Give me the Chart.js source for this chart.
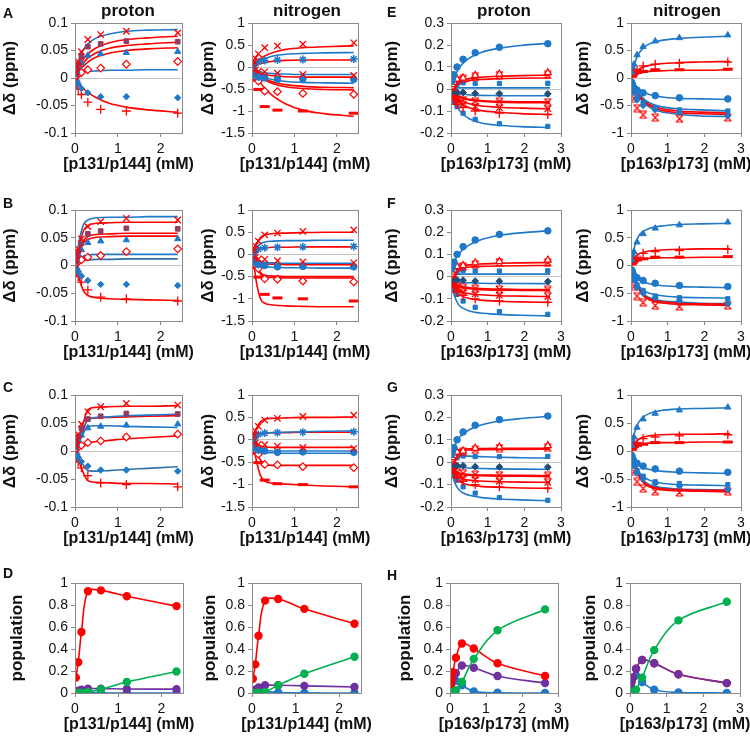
<!DOCTYPE html>
<html>
<head>
<meta charset="utf-8">
<script src="https://cdn.jsdelivr.net/npm/chart.js@4.4.1/dist/chart.umd.min.js"></script>
<style>
  body { margin: 0; background: #fff; }
  #fig { position: relative; width: 750px; height: 737px; overflow: hidden; font-family: "Liberation Sans", Arial, sans-serif; color: #111; }
  .lbl { position: absolute; font-weight: bold; white-space: nowrap; transform: translate(-50%, -50%); }
  .letter { position: absolute; font-weight: bold; font-size: 14px; line-height: 1; }
</style>
</head>
<body>
<div id="fig"></div>
<script>
// ---- concentrations (mM) ----
const concA = [0.02, 0.04, 0.075, 0.15, 0.3, 0.6, 1.2, 2.4];
const concE = [0.02, 0.04, 0.08, 0.165, 0.33, 0.66, 1.32, 2.64];
const fitXA = [0, 0.05, 0.1, 0.2, 0.3, 0.5, 0.8, 1.2, 1.7, 2.4];
const fitXE = [0, 0.05, 0.1, 0.2, 0.3, 0.5, 0.8, 1.3, 1.9, 2.7];
const popXA = [0.02, 0.075, 0.15, 0.3, 0.6, 1.2, 2.35];
const popXE = [0.02, 0.04, 0.08, 0.165, 0.33, 0.66, 1.32, 2.64];

// ---- measured shifts, p131/p144 (shared by A, B, C) ----
const hA_cross = [0.01, 0.02, 0.03, 0.048, 0.07, 0.079, 0.085, 0.082];
const hA_square = [0.008, 0.015, 0.025, 0.04, 0.057, 0.062, 0.067, 0.066];
const hA_tri = [0.006, 0.012, 0.02, 0.028, 0.041, 0.044, 0.046, 0.048];
const hA_openDia = [0.003, 0.005, 0.007, 0.01, 0.015, 0.018, 0.025, 0.03];
const hA_dia = [-0.003, -0.006, -0.011, -0.019, -0.027, -0.034, -0.034, -0.036];
const hA_plus = [-0.006, -0.012, -0.02, -0.03, -0.044, -0.057, -0.06, -0.064];

const nA_cross = [0.05, 0.12, 0.2, 0.3, 0.44, 0.48, 0.52, 0.55];
const nA_star = [0.02, 0.05, 0.09, 0.12, 0.15, 0.16, 0.17, 0.18];
const nA_cross2 = [-0.02, -0.04, -0.07, -0.1, -0.11, -0.14, -0.17, -0.19];
const nA_circle = [-0.08, -0.13, -0.18, -0.23, -0.25, -0.28, -0.27, -0.28];
const nA_openDia = [-0.08, -0.14, -0.22, -0.32, -0.55, -0.56, -0.6, -0.62];
const nA_dash = [-0.1, -0.2, -0.3, -0.51, -0.9, -0.98, -1.0, -1.05];

// ---- measured shifts, p163/p173 (shared by E, F, G) ----
const hE_circle = [0.035, 0.05, 0.065, 0.1, 0.135, 0.165, 0.19, 0.206];
const hE_openTri = [0.01, 0.02, 0.03, 0.045, 0.05, 0.062, 0.068, 0.074];
const hE_star = [0.008, 0.015, 0.025, 0.04, 0.046, 0.055, 0.063, 0.064];
const hE_square = [0.005, 0.01, 0.015, 0.02, 0.028, 0.025, 0.025, 0.026];
const hE_dia = [-0.004, -0.008, -0.01, -0.015, -0.016, -0.02, -0.021, -0.022];
const hE_star2 = [-0.01, -0.02, -0.03, -0.045, -0.05, -0.055, -0.058, -0.06];
const hE_cross = [-0.015, -0.025, -0.04, -0.06, -0.07, -0.078, -0.085, -0.09];
const hE_plus = [-0.02, -0.03, -0.05, -0.07, -0.085, -0.1, -0.11, -0.116];
const hE_square2 = [-0.02, -0.04, -0.06, -0.08, -0.11, -0.138, -0.158, -0.17];

const nE_tri = [0.1, 0.2, 0.25, 0.42, 0.57, 0.67, 0.73, 0.78];
const nE_plus = [0.05, 0.1, 0.13, 0.15, 0.22, 0.25, 0.27, 0.29];
const nE_dash = [0.03, 0.05, 0.08, 0.1, 0.12, 0.15, 0.15, 0.16];
const nE_circle = [-0.08, -0.12, -0.18, -0.22, -0.27, -0.32, -0.36, -0.38];
const nE_square = [-0.1, -0.15, -0.25, -0.35, -0.45, -0.55, -0.58, -0.6];
const nE_dia = [-0.1, -0.15, -0.26, -0.4, -0.5, -0.58, -0.63, -0.69];
const nE_star = [-0.18, -0.2, -0.37, -0.55, -0.67, -0.72, -0.74, -0.72];

// ---- fitted curves ----
const fitA_h = [
  [0, 0.02, 0.035, 0.052, 0.062, 0.073, 0.08, 0.085, 0.087, 0.088],
  [0, 0.012, 0.022, 0.035, 0.044, 0.055, 0.064, 0.07, 0.073, 0.076],
  [0, 0.009, 0.017, 0.028, 0.036, 0.046, 0.054, 0.059, 0.062, 0.065],
  [0, 0.007, 0.013, 0.022, 0.029, 0.038, 0.045, 0.05, 0.053, 0.055],
  [0, 0.005, 0.008, 0.011, 0.012, 0.013, 0.014, 0.014, 0.015, 0.015],
  [0, -0.006, -0.011, -0.02, -0.026, -0.036, -0.046, -0.053, -0.058, -0.062]
];
const fitB_h = [
  [0, 0.022, 0.045, 0.074, 0.082, 0.086, 0.087, 0.087, 0.088, 0.088],
  [0, 0.016, 0.035, 0.063, 0.072, 0.076, 0.077, 0.078, 0.078, 0.078],
  [0, 0.011, 0.025, 0.045, 0.052, 0.056, 0.057, 0.058, 0.058, 0.058],
  [0, 0.01, 0.022, 0.041, 0.047, 0.051, 0.052, 0.053, 0.053, 0.053],
  [0, 0.004, 0.01, 0.017, 0.019, 0.02, 0.02, 0.02, 0.02, 0.02],
  [0, 0.003, 0.006, 0.009, 0.01, 0.011, 0.011, 0.012, 0.012, 0.012],
  [0, -0.01, -0.024, -0.046, -0.054, -0.058, -0.06, -0.061, -0.062, -0.063]
];
const fitC_h = [
  [0, 0.012, 0.026, 0.052, 0.074, 0.078, 0.079, 0.08, 0.08, 0.081],
  [0, 0.01, 0.02, 0.04, 0.057, 0.06, 0.061, 0.063, 0.064, 0.066],
  [0, 0.01, 0.02, 0.04, 0.056, 0.059, 0.06, 0.061, 0.062, 0.063],
  [0, 0.008, 0.016, 0.032, 0.044, 0.045, 0.045, 0.044, 0.043, 0.042],
  [0, 0.003, 0.006, 0.011, 0.014, 0.017, 0.019, 0.022, 0.024, 0.027],
  [0, -0.007, -0.014, -0.026, -0.035, -0.036, -0.035, -0.033, -0.031, -0.028],
  [0, -0.01, -0.02, -0.04, -0.053, -0.056, -0.057, -0.058, -0.058, -0.059]
];
const fitA_n = [
  [0, 0.06, 0.11, 0.19, 0.25, 0.33, 0.4, 0.44, 0.46, 0.48],
  [0, 0.05, 0.09, 0.15, 0.19, 0.25, 0.29, 0.31, 0.32, 0.33],
  [0, 0.03, 0.05, 0.08, 0.1, 0.13, 0.15, 0.16, 0.16, 0.16],
  [0, -0.04, -0.07, -0.11, -0.13, -0.15, -0.16, -0.17, -0.17, -0.17],
  [0, -0.05, -0.09, -0.14, -0.17, -0.2, -0.22, -0.23, -0.23, -0.23],
  [0, -0.06, -0.11, -0.18, -0.23, -0.29, -0.33, -0.35, -0.36, -0.37],
  [0, -0.06, -0.12, -0.2, -0.26, -0.34, -0.4, -0.44, -0.46, -0.47],
  [0, -0.07, -0.13, -0.22, -0.29, -0.38, -0.45, -0.49, -0.51, -0.52],
  [0, -0.1, -0.2, -0.36, -0.48, -0.66, -0.84, -0.98, -1.06, -1.12]
];
const fitB_n = [
  [0, 0.1, 0.22, 0.38, 0.44, 0.47, 0.48, 0.49, 0.5, 0.5],
  [0, 0.06, 0.14, 0.24, 0.28, 0.3, 0.31, 0.31, 0.32, 0.32],
  [0, 0.03, 0.07, 0.13, 0.15, 0.16, 0.16, 0.17, 0.17, 0.17],
  [0, -0.04, -0.1, -0.16, -0.18, -0.19, -0.2, -0.2, -0.2, -0.2],
  [0, -0.05, -0.11, -0.19, -0.21, -0.22, -0.23, -0.23, -0.23, -0.23],
  [0, -0.06, -0.14, -0.24, -0.27, -0.29, -0.3, -0.3, -0.31, -0.31],
  [0, -0.1, -0.24, -0.41, -0.47, -0.49, -0.5, -0.5, -0.5, -0.5],
  [0, -0.11, -0.26, -0.44, -0.5, -0.52, -0.53, -0.53, -0.53, -0.53],
  [0, -0.25, -0.6, -1.0, -1.1, -1.14, -1.16, -1.17, -1.18, -1.18]
];
const fitC_n = [
  [0, 0.12, 0.24, 0.4, 0.46, 0.48, 0.49, 0.5, 0.5, 0.51],
  [0, 0.04, 0.08, 0.13, 0.15, 0.16, 0.17, 0.18, 0.19, 0.2],
  [0, 0.04, 0.08, 0.13, 0.15, 0.16, 0.16, 0.17, 0.17, 0.17],
  [0, -0.04, -0.08, -0.14, -0.16, -0.17, -0.17, -0.17, -0.17, -0.17],
  [0, -0.05, -0.11, -0.2, -0.24, -0.25, -0.25, -0.25, -0.25, -0.25],
  [0, -0.06, -0.13, -0.24, -0.28, -0.29, -0.3, -0.3, -0.3, -0.3],
  [0, -0.12, -0.25, -0.45, -0.55, -0.57, -0.57, -0.57, -0.57, -0.57],
  [0, -0.2, -0.45, -0.8, -0.92, -0.97, -0.99, -1.01, -1.03, -1.05]
];
const fitE_h = [
  [0, 0.03, 0.055, 0.09, 0.112, 0.14, 0.165, 0.185, 0.198, 0.208],
  [0, 0.01, 0.02, 0.032, 0.039, 0.047, 0.053, 0.058, 0.061, 0.063],
  [0, 0.008, 0.016, 0.026, 0.031, 0.038, 0.043, 0.047, 0.049, 0.05],
  [0, 0.003, 0.004, 0.005, 0.005, 0.005, 0.005, 0.005, 0.005, 0.005],
  [0, -0.008, -0.013, -0.02, -0.023, -0.027, -0.029, -0.03, -0.031, -0.031],
  [0, -0.012, -0.02, -0.032, -0.039, -0.047, -0.052, -0.056, -0.058, -0.059],
  [0, -0.013, -0.022, -0.035, -0.042, -0.05, -0.056, -0.06, -0.062, -0.063],
  [0, -0.016, -0.028, -0.045, -0.055, -0.067, -0.076, -0.083, -0.087, -0.09],
  [0, -0.02, -0.035, -0.056, -0.07, -0.085, -0.097, -0.106, -0.112, -0.116],
  [0, -0.03, -0.055, -0.09, -0.11, -0.135, -0.153, -0.165, -0.171, -0.175]
];
const fitF_h = [
  [0, 0.045, 0.07, 0.1, 0.118, 0.143, 0.165, 0.185, 0.197, 0.207],
  [0, 0.02, 0.03, 0.042, 0.047, 0.053, 0.057, 0.06, 0.062, 0.063],
  [0, 0.016, 0.025, 0.034, 0.038, 0.043, 0.046, 0.048, 0.049, 0.05],
  [0, 0.008, 0.01, 0.011, 0.011, 0.011, 0.011, 0.011, 0.011, 0.011],
  [0, -0.012, -0.018, -0.023, -0.026, -0.028, -0.03, -0.031, -0.031, -0.032],
  [0, -0.02, -0.03, -0.04, -0.045, -0.05, -0.054, -0.056, -0.058, -0.059],
  [0, -0.022, -0.032, -0.043, -0.049, -0.055, -0.059, -0.061, -0.062, -0.063],
  [0, -0.028, -0.045, -0.062, -0.07, -0.077, -0.082, -0.086, -0.088, -0.09],
  [0, -0.035, -0.055, -0.077, -0.088, -0.099, -0.106, -0.111, -0.114, -0.116],
  [0, -0.06, -0.09, -0.125, -0.14, -0.155, -0.164, -0.17, -0.174, -0.177]
];
const fitG_h = [
  [0, 0.045, 0.072, 0.105, 0.122, 0.145, 0.165, 0.183, 0.195, 0.205],
  [0, 0.03, 0.045, 0.055, 0.058, 0.06, 0.061, 0.062, 0.062, 0.063],
  [0, 0.025, 0.038, 0.05, 0.053, 0.055, 0.056, 0.057, 0.057, 0.058],
  [0, 0.02, 0.028, 0.03, 0.029, 0.027, 0.025, 0.022, 0.02, 0.018],
  [0, -0.012, -0.018, -0.022, -0.024, -0.026, -0.028, -0.03, -0.031, -0.032],
  [0, -0.022, -0.035, -0.047, -0.052, -0.055, -0.057, -0.058, -0.059, -0.06],
  [0, -0.025, -0.038, -0.05, -0.055, -0.058, -0.06, -0.062, -0.063, -0.064],
  [0, -0.03, -0.048, -0.066, -0.074, -0.08, -0.084, -0.087, -0.089, -0.09],
  [0, -0.036, -0.058, -0.082, -0.092, -0.102, -0.108, -0.112, -0.115, -0.117],
  [0, -0.06, -0.09, -0.12, -0.135, -0.148, -0.157, -0.164, -0.168, -0.172]
];
const fitE_n = [
  [0, 0.15, 0.27, 0.43, 0.52, 0.62, 0.68, 0.72, 0.74, 0.76],
  [0, 0.05, 0.09, 0.15, 0.19, 0.23, 0.26, 0.28, 0.29, 0.3],
  [0, 0.04, 0.06, 0.09, 0.1, 0.12, 0.13, 0.14, 0.14, 0.15],
  [0, -0.06, -0.11, -0.19, -0.24, -0.3, -0.34, -0.37, -0.38, -0.39],
  [0, -0.08, -0.15, -0.27, -0.35, -0.45, -0.52, -0.56, -0.58, -0.6],
  [0, -0.08, -0.16, -0.28, -0.37, -0.48, -0.55, -0.6, -0.62, -0.63],
  [0, -0.09, -0.17, -0.3, -0.39, -0.5, -0.58, -0.63, -0.65, -0.66],
  [0, -0.09, -0.18, -0.31, -0.41, -0.53, -0.61, -0.66, -0.69, -0.7]
];
const fitF_n = [
  [0, 0.2, 0.35, 0.52, 0.6, 0.67, 0.71, 0.74, 0.75, 0.76],
  [0, 0.08, 0.14, 0.2, 0.23, 0.26, 0.28, 0.29, 0.3, 0.3],
  [0, 0.05, 0.08, 0.11, 0.12, 0.13, 0.14, 0.14, 0.15, 0.15],
  [0, -0.1, -0.17, -0.25, -0.29, -0.33, -0.36, -0.38, -0.39, -0.4],
  [0, -0.1, -0.2, -0.35, -0.43, -0.5, -0.54, -0.57, -0.58, -0.59],
  [0, -0.1, -0.2, -0.38, -0.5, -0.6, -0.65, -0.68, -0.69, -0.7],
  [0, -0.1, -0.21, -0.4, -0.52, -0.62, -0.67, -0.7, -0.71, -0.72],
  [0, -0.1, -0.2, -0.37, -0.48, -0.58, -0.63, -0.66, -0.68, -0.69]
];
const fitG_n = [
  [0, 0.18, 0.33, 0.5, 0.59, 0.67, 0.72, 0.75, 0.76, 0.77],
  [0, 0.07, 0.13, 0.2, 0.24, 0.27, 0.29, 0.3, 0.3, 0.31],
  [0, 0.05, 0.08, 0.11, 0.13, 0.14, 0.15, 0.15, 0.16, 0.16],
  [0, -0.09, -0.16, -0.25, -0.29, -0.33, -0.36, -0.38, -0.39, -0.4],
  [0, -0.1, -0.2, -0.35, -0.44, -0.52, -0.57, -0.6, -0.61, -0.62],
  [0, -0.1, -0.21, -0.4, -0.52, -0.62, -0.67, -0.69, -0.7, -0.7],
  [0, -0.1, -0.22, -0.42, -0.54, -0.64, -0.69, -0.71, -0.72, -0.73],
  [0, -0.1, -0.21, -0.39, -0.5, -0.6, -0.65, -0.68, -0.69, -0.7]
];

// ---- populations ----
const popD_h_red = [0.14, 0.28, 0.555, 0.925, 0.933, 0.88, 0.79];
const popD_h_green = [0, 0, 0.003, 0.01, 0.035, 0.1, 0.195];
const popD_h_purple = [0.01, 0.02, 0.03, 0.04, 0.04, 0.036, 0.035];
const popD_h_blue = [0.002, 0.003, 0.003, 0.003, 0.001, 0, 0];
const popD_n_red = [0.13, 0.26, 0.52, 0.84, 0.855, 0.765, 0.63];
const popD_n_green = [0, 0, 0.002, 0.01, 0.07, 0.175, 0.33];
const popD_n_purple = [0.01, 0.03, 0.05, 0.07, 0.07, 0.065, 0.055];
const popD_n_blue = [0.008, 0.015, 0.018, 0.015, 0.004, 0.001, 0];
const popH_h_red = [0.08, 0.12, 0.19, 0.32, 0.45, 0.405, 0.27, 0.155];
const popH_h_purple = [0.06, 0.09, 0.13, 0.18, 0.25, 0.23, 0.155, 0.09];
const popH_h_blue = [0.07, 0.09, 0.105, 0.11, 0.07, 0.015, 0.002, 0];
const popH_h_green = [0, 0.002, 0.01, 0.025, 0.1, 0.31, 0.57, 0.76];
const popH_n_red = [0.07, 0.1, 0.14, 0.22, 0.3, 0.27, 0.17, 0.09];
const popH_n_purple = [0.07, 0.1, 0.14, 0.22, 0.3, 0.27, 0.17, 0.09];
const popH_n_blue = [0.09, 0.12, 0.14, 0.16, 0.1, 0.03, 0.005, 0];
const popH_n_green = [0, 0.005, 0.01, 0.03, 0.14, 0.39, 0.66, 0.83];

// ---- styles ----
const RED = "#ff0000", BLUE = "#1f78c8", TEAL = "#2f6fa8", DKBLUE = "#1f4e79";
const MAROON = "#953a62", GREEN = "#00b050", PURPLE = "#7030a0";

// Excel-style star marker: an x with bars on top and bottom
function starMarker(color) {
  const c = document.createElement("canvas");
  c.width = 9; c.height = 9;
  const g = c.getContext("2d");
  g.strokeStyle = color;
  g.lineWidth = 1.2;
  g.beginPath();
  g.moveTo(1, 1); g.lineTo(8, 8);
  g.moveTo(8, 1); g.lineTo(1, 8);
  g.moveTo(1, 1); g.lineTo(8, 1);
  g.moveTo(1, 8); g.lineTo(8, 8);
  g.stroke();
  return c;
}

const MARK = {
  xRed:      { pointStyle: "crossRot", pointRadius: 4.5, pointBorderColor: RED, pointBorderWidth: 1.3 },
  plusRed:   { pointStyle: "cross", pointRadius: 4.5, pointBorderColor: RED, pointBorderWidth: 1.3 },
  starRed:   { pointStyle: starMarker(RED), pointRadius: 4.5 },
  starBlue:  { pointStyle: "star", pointRadius: 4, pointBorderColor: BLUE, pointBorderWidth: 1.5 },
  sqMaroon:  { pointStyle: "rect", pointRadius: 3.3, pointBackgroundColor: MAROON, pointBorderColor: MAROON },
  sqBlue:    { pointStyle: "rect", pointRadius: 3, pointBackgroundColor: BLUE, pointBorderColor: BLUE },
  triBlue:   { pointStyle: "triangle", pointRadius: 3.6, pointBackgroundColor: BLUE, pointBorderColor: BLUE },
  triRedOpen:{ pointStyle: "triangle", pointRadius: 4, pointBackgroundColor: "#fff", pointBorderColor: RED, pointBorderWidth: 1.2 },
  diaRedOpen:{ pointStyle: "rectRot", pointRadius: 3.8, pointBackgroundColor: "#fff", pointBorderColor: RED, pointBorderWidth: 1.2 },
  diaBlue:   { pointStyle: "rectRot", pointRadius: 3.2, pointBackgroundColor: BLUE, pointBorderColor: BLUE },
  diaDark:   { pointStyle: "rectRot", pointRadius: 3.4, pointBackgroundColor: DKBLUE, pointBorderColor: DKBLUE },
  circBlue:  { pointStyle: "circle", pointRadius: 3.3, pointBackgroundColor: BLUE, pointBorderColor: BLUE },
  dashRed:   { pointStyle: "line", pointRadius: 5, pointBorderColor: RED, pointBorderWidth: 3 }
};

const markA_h = [[hA_cross, "xRed"], [hA_square, "sqMaroon"], [hA_tri, "triBlue"], [hA_openDia, "diaRedOpen"], [hA_dia, "diaBlue"], [hA_plus, "plusRed"]];
const markA_n = [[nA_cross, "xRed"], [nA_star, "starBlue"], [nA_cross2, "xRed"], [nA_circle, "circBlue"], [nA_openDia, "diaRedOpen"], [nA_dash, "dashRed"]];
const markE_h = [[hE_circle, "circBlue"], [hE_openTri, "triRedOpen"], [hE_star, "starRed"], [hE_square, "sqBlue"], [hE_dia, "diaDark"], [hE_star2, "starRed"], [hE_cross, "xRed"], [hE_plus, "plusRed"], [hE_square2, "sqBlue"]];
const markE_n = [[nE_tri, "triBlue"], [nE_plus, "plusRed"], [nE_dash, "dashRed"], [nE_circle, "circBlue"], [nE_square, "sqBlue"], [nE_dia, "diaBlue"], [nE_star, "starRed"]];

const colA_h = [BLUE, RED, RED, RED, BLUE, RED];
const colB_h = [BLUE, RED, RED, RED, BLUE, TEAL, RED];
const colC_h = [RED, BLUE, RED, BLUE, RED, TEAL, RED];
const colA_n = [RED, BLUE, RED, BLUE, RED, BLUE, RED, RED, RED];
const colC_n = [RED, BLUE, RED, RED, BLUE, BLUE, RED, RED];
const colE_h = [BLUE, RED, RED, BLUE, BLUE, RED, RED, RED, RED, BLUE];
const colE_n = [BLUE, RED, RED, BLUE, BLUE, RED, RED, BLUE];

// ---- layout ----
const rowsY = [[23, 133], [210, 321], [395, 507], [583, 693]];
const colsX = [[0, 75, 182], [198, 252, 358], [382, 451, 561], [573, 631, 741]];
const popColsX = [[7, 75, 183], [200, 252, 361], [395, 450, 558], [580, 630, 740]];
const TOP_PAD = 12, RIGHT_PAD = 20, X_AXIS_H = 28;

Chart.defaults.font.family = "'Liberation Sans', Arial, sans-serif";
Chart.defaults.color = "#111";

const frame = {
  id: "frame",
  afterDatasetsDraw(chart) {
    const a = chart.chartArea, c = chart.ctx;
    c.save();
    c.strokeStyle = "#8a8a8a";
    c.lineWidth = 1;
    c.strokeRect(Math.round(a.left) + 0.5, Math.round(a.top) + 0.5, Math.round(a.right - a.left), Math.round(a.bottom - a.top));
    c.restore();
  }
};

function pts(xs, ys) { return xs.map((x, i) => ({ x: x, y: ys[i] })); }

function markSets(xs, marks) {
  return marks.map(([ys, m]) => Object.assign({ data: pts(xs, ys), showLine: false }, MARK[m]));
}
function fitSets(xs, fits, colors) {
  return fits.map((ys, i) => ({
    data: pts(xs, ys), showLine: true, pointRadius: 0, borderColor: colors[i],
    borderWidth: 1.6, cubicInterpolationMode: "monotone"
  }));
}
function popSets(xs, series) {
  return series.map(([ys, col]) => ({
    data: pts(xs, ys), showLine: true, tension: 0.35, borderColor: col, borderWidth: 1.6,
    pointRadius: 3.4, pointBackgroundColor: col, pointBorderColor: col
  }));
}

const fig = document.getElementById("fig");

function addText(cls, text, x, y, size) {
  const d = document.createElement("div");
  d.className = cls;
  d.textContent = text;
  d.style.left = x + "px";
  d.style.top = y + "px";
  if (size) d.style.fontSize = size + "px";
  fig.appendChild(d);
}

function panel(row, col, datasets, y, pop) {
  const [yTop, yBot] = rowsY[row];
  const [sLeft, pLeft, pRight] = (pop ? popColsX : colsX)[col];
  const axisW = pLeft - sLeft;
  const w = axisW + (pRight - pLeft) + RIGHT_PAD;
  const h = TOP_PAD + (yBot - yTop) + X_AXIS_H;
  const cv = document.createElement("canvas");
  cv.width = w; cv.height = h;
  cv.style.cssText = "position:absolute;left:" + sLeft + "px;top:" + (yTop - TOP_PAD) + "px;width:" + w + "px;height:" + h + "px";
  fig.appendChild(cv);
  const xmax = col < 2 ? 2.5 : 3;
  new Chart(cv.getContext("2d"), {
    type: "scatter",
    data: { datasets: datasets },
    options: {
      responsive: false, animation: false,
      layout: { padding: { top: TOP_PAD, right: RIGHT_PAD, left: 0, bottom: 0 } },
      plugins: { legend: { display: false }, tooltip: { enabled: false } },
      scales: {
        x: {
          type: "linear", min: 0, max: xmax,
          ticks: { stepSize: 1, includeBounds: false, padding: 4, font: { size: 14 }, maxRotation: 0 },
          grid: { color: "rgba(0,0,0,0)", tickColor: "#8a8a8a", tickLength: 4 },
          border: { display: false },
          afterFit: s => { s.height = X_AXIS_H; }
        },
        y: {
          min: y.min, max: y.max,
          ticks: { stepSize: y.step, includeBounds: false, padding: 3, font: { size: 14 }, callback: v => String(+v.toFixed(3)) },
          grid: {
            color: c => (!pop && c.tick && Math.abs(c.tick.value) < 1e-9) ? "#c4c4c4" : "rgba(0,0,0,0)",
            tickColor: "#8a8a8a", tickLength: 4
          },
          border: { display: false },
          title: { display: true, text: pop ? "population" : "Δδ (ppm)", font: { size: 17, weight: "bold" }, padding: 0 },
          afterFit: s => { s.width = axisW; }
        }
      }
    },
    plugins: [frame]
  });
  addText("lbl", col < 2 ? "[p131/p144] (mM)" : "[p163/p173] (mM)", (pLeft + pRight) / 2, yBot + 31, 16);
}

const yH1 = { min: -0.1, max: 0.1, step: 0.05 };
const yN1 = { min: -1.5, max: 1, step: 0.5 };
const yH2 = { min: -0.2, max: 0.3, step: 0.1 };
const yN2 = { min: -1, max: 1, step: 0.5 };
const yPop = { min: 0, max: 1, step: 0.2 };

// A, B, C
panel(0, 0, markSets(concA, markA_h).concat(fitSets(fitXA, fitA_h, colA_h)), yH1);
panel(0, 1, markSets(concA, markA_n).concat(fitSets(fitXA, fitA_n, colA_n)), yN1);
panel(1, 0, markSets(concA, markA_h).concat(fitSets(fitXA, fitB_h, colB_h)), yH1);
panel(1, 1, markSets(concA, markA_n).concat(fitSets(fitXA, fitB_n, colA_n)), yN1);
panel(2, 0, markSets(concA, markA_h).concat(fitSets(fitXA, fitC_h, colC_h)), yH1);
panel(2, 1, markSets(concA, markA_n).concat(fitSets(fitXA, fitC_n, colC_n)), yN1);
// E, F, G
panel(0, 2, markSets(concE, markE_h).concat(fitSets(fitXE, fitE_h, colE_h)), yH2);
panel(0, 3, markSets(concE, markE_n).concat(fitSets(fitXE, fitE_n, colE_n)), yN2);
panel(1, 2, markSets(concE, markE_h).concat(fitSets(fitXE, fitF_h, colE_h)), yH2);
panel(1, 3, markSets(concE, markE_n).concat(fitSets(fitXE, fitF_n, colE_n)), yN2);
panel(2, 2, markSets(concE, markE_h).concat(fitSets(fitXE, fitG_h, colE_h)), yH2);
panel(2, 3, markSets(concE, markE_n).concat(fitSets(fitXE, fitG_n, colE_n)), yN2);
// D, H
panel(3, 0, popSets(popXA, [[popD_h_red, RED], [popD_h_green, GREEN], [popD_h_purple, PURPLE], [popD_h_blue, BLUE]]), yPop, true);
panel(3, 1, popSets(popXA, [[popD_n_red, RED], [popD_n_green, GREEN], [popD_n_purple, PURPLE], [popD_n_blue, BLUE]]), yPop, true);
panel(3, 2, popSets(popXE, [[popH_h_green, GREEN], [popH_h_red, RED], [popH_h_purple, PURPLE], [popH_h_blue, BLUE]]), yPop, true);
panel(3, 3, popSets(popXE, [[popH_n_green, GREEN], [popH_n_purple, PURPLE], [popH_n_red, RED], [popH_n_blue, BLUE]]), yPop, true);

// column headings and panel letters
addText("lbl", "proton", 128, 11, 17);
addText("lbl", "nitrogen", 307, 11, 17);
addText("lbl", "proton", 504, 11, 17);
addText("lbl", "nitrogen", 687, 11, 17);
[["A", 3, 6], ["B", 3, 196], ["C", 3, 380], ["D", 3, 566],
 ["E", 387, 5], ["F", 387, 196], ["G", 387, 380], ["H", 387, 568]].forEach(([t, x, y]) => addText("letter", t, x, y));
</script>
</body>
</html>
